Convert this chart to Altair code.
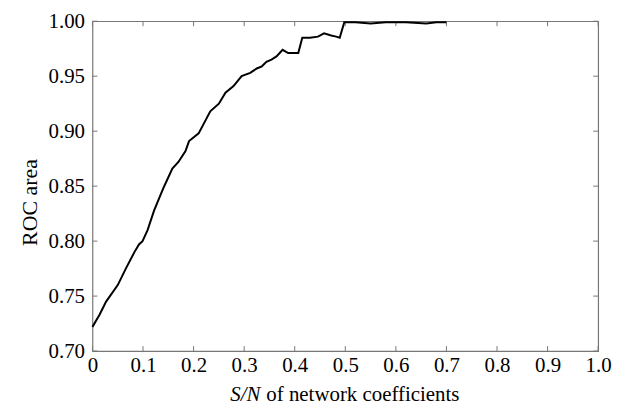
import altair as alt
import pandas as pd

# Curve values
sn = [0.0, 0.014, 0.027, 0.05, 0.066, 0.083, 0.092, 0.099, 0.109, 0.122, 0.141,
      0.158, 0.17, 0.184, 0.191, 0.21, 0.233, 0.25, 0.263, 0.279, 0.295, 0.312,
      0.325, 0.335, 0.344, 0.354, 0.364, 0.376, 0.387, 0.407, 0.415, 0.43, 0.446,
      0.458, 0.472, 0.482, 0.489, 0.498, 0.52, 0.55, 0.58, 0.62, 0.66, 0.68, 0.7]
roc = [0.722, 0.733, 0.745, 0.760, 0.775, 0.790, 0.797, 0.800, 0.810, 0.828, 0.849,
       0.866, 0.872, 0.882, 0.891, 0.898, 0.918, 0.925, 0.935, 0.941, 0.950, 0.953,
       0.957, 0.959, 0.963, 0.965, 0.968, 0.974, 0.971, 0.971, 0.985, 0.985, 0.986,
       0.989, 0.987, 0.986, 0.985, 0.999, 0.999, 0.998, 0.999, 0.999, 0.998, 0.999, 0.999]

x_ticks = [0.0, 0.1, 0.2, 0.3, 0.4, 0.5, 0.6, 0.7, 0.8, 0.9, 1.0]
y_ticks = [0.70, 0.75, 0.80, 0.85, 0.90, 0.95, 1.00]

x_title_italic = "S/N"
x_title_rest = "of network coefficients"
y_title = "ROC area"

W, H = 509, 332
FONT = "Times New Roman, Liberation Serif, serif"
FRAME = "#777777"

df = pd.DataFrame({"sn": sn, "roc": roc})
xt = pd.DataFrame({"v": x_ticks})
yt = pd.DataFrame({"v": y_ticks})

xscale = alt.Scale(domain=[0, 1], nice=False, zero=False)
yscale = alt.Scale(domain=[0.7, 1.0], nice=False, zero=False)

line = alt.Chart(df).mark_line(color="black", strokeWidth=2).encode(
    x=alt.X("sn:Q", scale=xscale, title=None,
            axis=alt.Axis(values=x_ticks, ticks=False, tickSize=0, domain=False, grid=False,
                          labelFont=FONT, labelFontSize=21, labelColor="black",
                          labelPadding=4, labelFlush=False,
                          labelExpr="datum.value == 0 ? '0' : format(datum.value, '.1f')")),
    y=alt.Y("roc:Q", scale=yscale, title=y_title,
            axis=alt.Axis(values=y_ticks, ticks=False, tickSize=0, domain=False, grid=False,
                          format=".2f", labelFont=FONT, labelFontSize=21, labelColor="black",
                          labelPadding=8, labelFlush=False,
                          titleFont=FONT, titleFontSize=22, titleFontWeight="normal",
                          titleColor="black", titleX=-56, titleY=182,
                          titleBaseline="alphabetic")),
)

tick_len = 5
bottom_ticks = alt.Chart(xt).mark_rule(color=FRAME, strokeWidth=1).encode(
    x=alt.X("v:Q", scale=xscale), y=alt.value(H), y2=alt.value(H - tick_len))
top_ticks = alt.Chart(xt).mark_rule(color=FRAME, strokeWidth=1).encode(
    x=alt.X("v:Q", scale=xscale), y=alt.value(0), y2=alt.value(tick_len))
left_ticks = alt.Chart(yt).mark_rule(color=FRAME, strokeWidth=1).encode(
    y=alt.Y("v:Q", scale=yscale), x=alt.value(0), x2=alt.value(tick_len))
right_ticks = alt.Chart(yt).mark_rule(color=FRAME, strokeWidth=1).encode(
    y=alt.Y("v:Q", scale=yscale), x=alt.value(W), x2=alt.value(W - tick_len))

title_df = pd.DataFrame({"a": [x_title_italic], "b": [x_title_rest]})
t1 = alt.Chart(title_df).mark_text(font=FONT, fontSize=21, fontStyle="italic",
                                    align="right", baseline="alphabetic", color="black").encode(
    text="a:N", x=alt.value(169), y=alt.value(H + 50))
t2 = alt.Chart(title_df).mark_text(font=FONT, fontSize=21, align="left",
                                    baseline="alphabetic", color="black").encode(
    text="b:N", x=alt.value(175), y=alt.value(H + 50))

chart = alt.layer(bottom_ticks, top_ticks, left_ticks, right_ticks, line, t1, t2).properties(
    width=W, height=H,
    autosize=alt.AutoSizeParams(type="none"),
    padding={"left": 85, "top": 12, "right": 22, "bottom": 56},
).configure_view(stroke=FRAME, strokeWidth=1.2)

chart.save("out.html", embed_options={"renderer": "svg", "actions": False})
